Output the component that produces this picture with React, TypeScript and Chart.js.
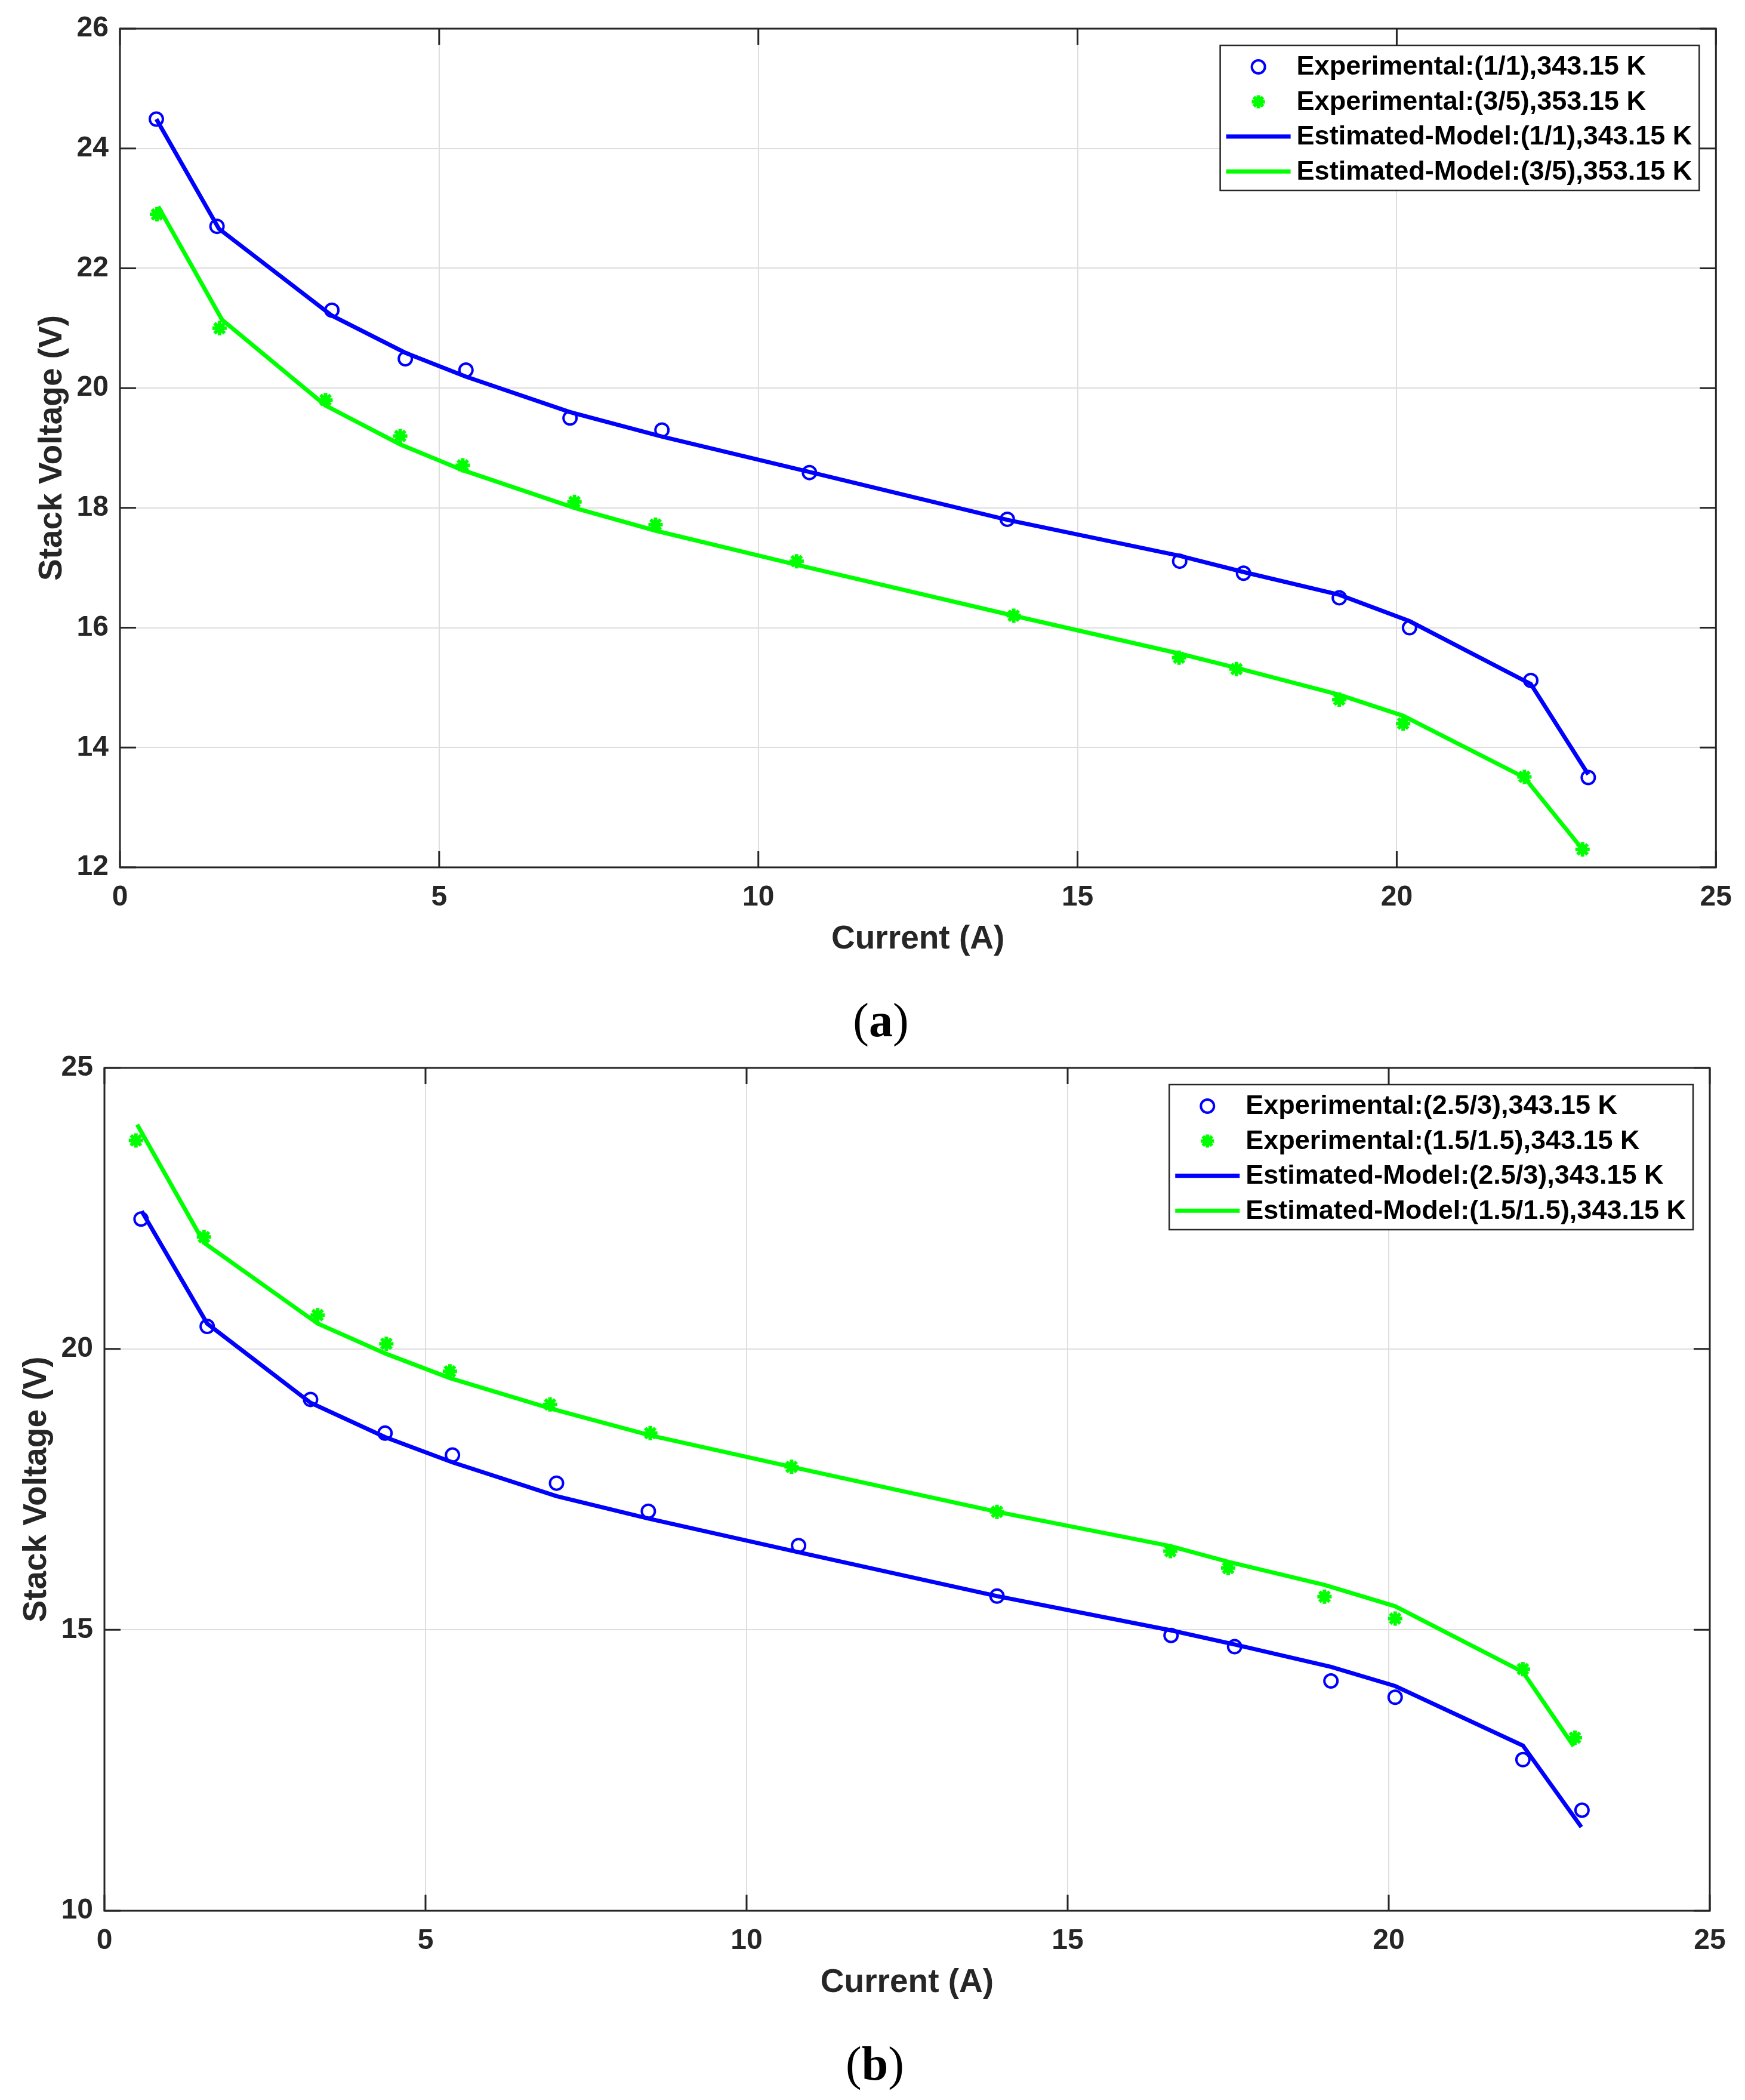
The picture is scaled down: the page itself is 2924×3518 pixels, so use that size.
import React, { useEffect, useRef } from "react";
import { Chart, registerables } from "chart.js";

Chart.register(...registerables);

// ---------- data: chart (a) ----------
const aBlueExpX = [0.57, 1.52, 3.32, 4.47, 5.42, 7.05, 8.49, 10.8, 13.9, 16.6, 17.6, 19.1, 20.2, 22.1, 23.0];
const aBlueExpY = [24.49, 22.7, 21.3, 20.49, 20.3, 19.5, 19.3, 18.59, 17.81, 17.11, 16.91, 16.5, 16.0, 15.12, 13.5];
const aGreenExpX = [0.58, 1.56, 3.22, 4.39, 5.37, 7.12, 8.39, 10.6, 14.0, 16.59, 17.49, 19.1, 20.1, 22.0, 22.91];
const aGreenExpY = [22.9, 21.0, 19.8, 19.2, 18.71, 18.1, 17.72, 17.11, 16.2, 15.5, 15.31, 14.8, 14.4, 13.51, 12.3];
const aBlueModelX = [0.57, 1.55, 3.32, 4.47, 5.42, 7.05, 8.49, 10.8, 13.9, 16.6, 17.6, 19.1, 20.2, 22.1, 23.0];
const aBlueModelY = [24.49, 22.66, 21.21, 20.59, 20.19, 19.6, 19.19, 18.6, 17.8, 17.2, 16.93, 16.55, 16.11, 15.06, 13.55];
const aGreenModelX = [0.6, 1.6, 3.22, 4.39, 5.37, 7.12, 8.39, 10.6, 14.0, 16.59, 17.49, 19.1, 20.1, 22.0, 22.91];
const aGreenModelY = [23.03, 21.14, 19.71, 19.06, 18.63, 18.0, 17.62, 17.05, 16.2, 15.57, 15.33, 14.88, 14.53, 13.5, 12.3];
const aLabels = [
  "Experimental:(1/1),343.15 K",
  "Experimental:(3/5),353.15 K",
  "Estimated-Model:(1/1),343.15 K",
  "Estimated-Model:(3/5),353.15 K",
];
const aYRange = [12, 26, 2];

// ---------- data: chart (b) ----------
const bBlueExpX = [0.57, 1.6, 3.21, 4.37, 5.42, 7.04, 8.47, 10.81, 13.9, 16.61, 17.6, 19.1, 20.1, 22.09, 23.01];
const bBlueExpY = [22.31, 20.4, 19.1, 18.5, 18.11, 17.61, 17.11, 16.5, 15.6, 14.9, 14.7, 14.09, 13.8, 12.69, 11.79];
const bGreenExpX = [0.49, 1.55, 3.32, 4.39, 5.38, 6.94, 8.5, 10.7, 13.9, 16.6, 17.5, 19.0, 20.1, 22.09, 22.9];
const bGreenExpY = [23.71, 21.99, 20.6, 20.09, 19.6, 19.01, 18.5, 17.9, 17.1, 16.4, 16.1, 15.59, 15.2, 14.3, 13.08];
const bBlueModelX = [0.58, 1.6, 3.21, 4.37, 5.42, 7.04, 8.47, 10.81, 13.9, 16.61, 17.6, 19.1, 20.1, 22.09, 23.0];
const bBlueModelY = [22.45, 20.45, 19.04, 18.43, 17.98, 17.38, 16.98, 16.38, 15.6, 14.99, 14.74, 14.34, 14.0, 12.94, 11.49];
const bGreenModelX = [0.51, 1.55, 3.32, 4.39, 5.38, 6.94, 8.5, 10.7, 13.9, 16.6, 17.5, 19.0, 20.1, 22.09, 22.88];
const bGreenModelY = [23.99, 21.89, 20.45, 19.91, 19.48, 18.94, 18.46, 17.9, 17.1, 16.49, 16.21, 15.8, 15.42, 14.25, 12.93];
const bLabels = [
  "Experimental:(2.5/3),343.15 K",
  "Experimental:(1.5/1.5),343.15 K",
  "Estimated-Model:(2.5/3),343.15 K",
  "Estimated-Model:(1.5/1.5),343.15 K",
];
const bYRange = [10, 25, 5];

const xRange = [0, 25, 5];
const xTitle = "Current (A)";
const yTitle = "Stack Voltage (V)";

// ---------- styling ----------
const BLUE = "#0000ff";
const GREEN = "#00ff00";
const AXIS = "#262626";
const GRID = "#dedede";
const SANS = "'Liberation Sans', Arial, Helvetica, sans-serif";

const zip = (xs: number[], ys: number[]) => xs.map((x, i) => ({ x, y: ys[i] }));

const framePlugin = {
  id: "matlabFrame",
  beforeDatasetsDraw(chart: any) {
    const { ctx, chartArea: a, scales } = chart;
    const tl = 27;
    ctx.save();
    ctx.strokeStyle = AXIS;
    ctx.lineWidth = 3;
    ctx.beginPath();
    scales.x.ticks.forEach((t: any) => {
      const px = scales.x.getPixelForValue(t.value);
      ctx.moveTo(px, a.bottom);
      ctx.lineTo(px, a.bottom - tl);
      ctx.moveTo(px, a.top);
      ctx.lineTo(px, a.top + tl);
    });
    scales.y.ticks.forEach((t: any) => {
      const py = scales.y.getPixelForValue(t.value);
      ctx.moveTo(a.left, py);
      ctx.lineTo(a.left + tl, py);
      ctx.moveTo(a.right, py);
      ctx.lineTo(a.right - tl, py);
    });
    ctx.stroke();
    ctx.strokeRect(a.left, a.top, a.right - a.left, a.bottom - a.top);
    ctx.restore();
  },
  afterDatasetsDraw(chart: any, _args: any, opts: any) {
    const { ctx, chartArea: a } = chart;
    const labels: string[] = opts.labels || [];
    if (!labels.length) return;
    ctx.save();
    ctx.font = `bold 45px ${SANS}`;
    let maxW = 0;
    labels.forEach((l) => (maxW = Math.max(maxW, ctx.measureText(l).width)));
    const w = 128 + maxW + 12;
    const h = 243;
    const right = a.right - 28;
    const left = right - w;
    const top = a.top + 28;
    ctx.fillStyle = "#ffffff";
    ctx.fillRect(left, top, w, h);
    ctx.strokeStyle = AXIS;
    ctx.lineWidth = 2.5;
    ctx.strokeRect(left, top, w, h);
    const kinds = ["circle", "star", "line", "line"];
    const colors = [BLUE, GREEN, BLUE, GREEN];
    labels.forEach((l, i) => {
      const y = top + 36 + i * 58.4;
      const mx = left + 64;
      ctx.strokeStyle = colors[i];
      if (kinds[i] === "circle") {
        ctx.lineWidth = 4;
        ctx.beginPath();
        ctx.arc(mx, y, 11, 0, Math.PI * 2);
        ctx.stroke();
      } else if (kinds[i] === "star") {
        ctx.lineWidth = 6;
        ctx.beginPath();
        const r = 11;
        for (let k = 0; k < 4; k++) {
          const ang = (k * Math.PI) / 4;
          ctx.moveTo(mx + r * Math.cos(ang), y + r * Math.sin(ang));
          ctx.lineTo(mx - r * Math.cos(ang), y - r * Math.sin(ang));
        }
        ctx.stroke();
      } else {
        ctx.lineWidth = 7;
        ctx.beginPath();
        ctx.moveTo(left + 10, y);
        ctx.lineTo(left + 118, y);
        ctx.stroke();
      }
      ctx.fillStyle = "#000000";
      ctx.textBaseline = "middle";
      ctx.textAlign = "left";
      ctx.fillText(l, left + 128, y + 1);
    });
    ctx.restore();
  },
};

type Spec = {
  blueExp: { x: number; y: number }[];
  greenExp: { x: number; y: number }[];
  blueModel: { x: number; y: number }[];
  greenModel: { x: number; y: number }[];
  labels: string[];
  yRange: number[];
  width: number;
  height: number;
  padTop: number;
  padRight: number;
  yWidth: number;
  xHeight: number;
  xTitlePad: number;
  yTitlePad: number;
};

function makeConfig(s: Spec): any {
  return {
    type: "line",
    data: {
      datasets: [
        {
          label: s.labels[0],
          data: s.blueExp,
          showLine: false,
          order: 1,
          pointStyle: "circle",
          pointRadius: 11,
          pointBorderWidth: 4,
          borderColor: BLUE,
          pointBorderColor: BLUE,
          pointBackgroundColor: "rgba(0,0,0,0)",
        },
        {
          label: s.labels[1],
          data: s.greenExp,
          showLine: false,
          order: 1,
          pointStyle: "star",
          pointRadius: 12,
          pointBorderWidth: 6,
          borderColor: GREEN,
          pointBorderColor: GREEN,
          pointBackgroundColor: GREEN,
        },
        {
          label: s.labels[2],
          data: s.blueModel,
          order: 0,
          borderColor: BLUE,
          borderWidth: 7,
          pointRadius: 0,
          tension: 0,
          fill: false,
        },
        {
          label: s.labels[3],
          data: s.greenModel,
          order: 0,
          borderColor: GREEN,
          borderWidth: 7,
          pointRadius: 0,
          tension: 0,
          fill: false,
        },
      ],
    },
    options: {
      responsive: false,
      animation: false,
      devicePixelRatio: 1,
      events: [],
      layout: { padding: { top: s.padTop, right: s.padRight, left: 0, bottom: 0 } },
      plugins: {
        legend: { display: false },
        tooltip: { enabled: false },
        title: { display: false },
        matlabFrame: { labels: s.labels },
      },
      scales: {
        x: {
          type: "linear",
          min: xRange[0],
          max: xRange[1],
          afterFit: (sc: any) => {
            sc.height = s.xHeight;
          },
          ticks: {
            stepSize: xRange[2],
            color: AXIS,
            padding: 22,
            maxRotation: 0,
            font: { family: SANS, size: 48, weight: "bold" },
          },
          grid: { color: GRID, lineWidth: 2, drawTicks: false },
          border: { display: false },
          title: {
            display: true,
            text: xTitle,
            color: AXIS,
            font: { family: SANS, size: 55, weight: "bold" },
            padding: { top: 0, bottom: s.xTitlePad },
          },
        },
        y: {
          type: "linear",
          min: s.yRange[0],
          max: s.yRange[1],
          afterFit: (sc: any) => {
            sc.width = s.yWidth;
          },
          ticks: {
            stepSize: s.yRange[2],
            color: AXIS,
            padding: 19,
            font: { family: SANS, size: 48, weight: "bold" },
          },
          grid: { color: GRID, lineWidth: 2, drawTicks: false },
          border: { display: false },
          title: {
            display: true,
            text: yTitle,
            color: AXIS,
            font: { family: SANS, size: 55, weight: "bold" },
            padding: { top: s.yTitlePad, bottom: 0 },
          },
        },
      },
    },
    plugins: [framePlugin],
  };
}

function ChartCanvas({ spec, top }: { spec: Spec; top: number }) {
  const ref = useRef<HTMLCanvasElement | null>(null);
  useEffect(() => {
    if (!ref.current) return;
    const chart = new Chart(ref.current, makeConfig(spec));
    return () => chart.destroy();
  }, []);
  return (
    <canvas
      ref={ref}
      width={spec.width}
      height={spec.height}
      style={{ position: "absolute", left: 0, top, width: spec.width, height: spec.height }}
    />
  );
}

// chart (a): canvas 0..1700 ; chart (b): canvas 1700..3518
const specA: Spec = {
  blueExp: zip(aBlueExpX, aBlueExpY),
  greenExp: zip(aGreenExpX, aGreenExpY),
  blueModel: zip(aBlueModelX, aBlueModelY),
  greenModel: zip(aGreenModelX, aGreenModelY),
  labels: aLabels,
  yRange: aYRange,
  width: 2924,
  height: 1700,
  padTop: 48,
  padRight: 48,
  yWidth: 201,
  xHeight: 247,
  xTitlePad: 93,
  yTitlePad: 55,
};

const specB: Spec = {
  blueExp: zip(bBlueExpX, bBlueExpY),
  greenExp: zip(bGreenExpX, bGreenExpY),
  blueModel: zip(bBlueModelX, bBlueModelY),
  greenModel: zip(bGreenModelX, bGreenModelY),
  labels: bLabels,
  yRange: bYRange,
  width: 2924,
  height: 1818,
  padTop: 89,
  padRight: 59,
  yWidth: 175,
  xHeight: 317,
  xTitlePad: 163,
  yTitlePad: 29,
};

function PanelLabel({ letter, x, y }: { letter: string; x: number; y: number }) {
  return (
    <div
      style={{
        position: "absolute",
        left: x,
        top: y,
        transform: "translate(-50%, -50%)",
        fontFamily: "'Liberation Serif', 'Times New Roman', serif",
        fontSize: 80,
        lineHeight: 1,
        color: "#000",
        whiteSpace: "nowrap",
      }}
    >
      (<span style={{ fontWeight: "bold" }}>{letter}</span>)
    </div>
  );
}

export default function App() {
  return (
    <div
      style={{
        position: "absolute",
        left: 0,
        top: 0,
        width: 2924,
        height: 3518,
        background: "#ffffff",
        overflow: "hidden",
      }}
    >
      <ChartCanvas spec={specA} top={0} />
      <ChartCanvas spec={specB} top={1700} />
      <PanelLabel letter="a" x={1476} y={1709} />
      <PanelLabel letter="b" x={1466} y={3457} />
    </div>
  );
}
